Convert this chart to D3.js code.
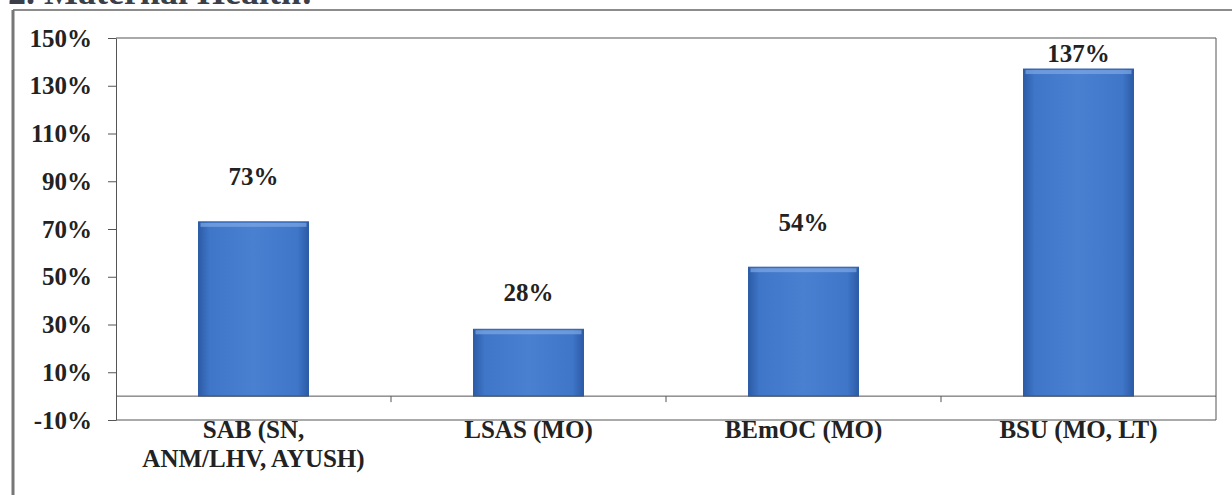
<!DOCTYPE html>
<html>
    <head>
        <meta charset="utf-8">
        <script src="https://cdn.jsdelivr.net/npm/d3@7"></script>
        <style>
        body { margin: 0; background: #fff; }
        text { font-family: "Liberation Serif", "Times New Roman", serif; font-weight: bold; fill: #222; }
        </style>
    </head>
    <body>
        <div id="chartContainer"></div>
        <script type="text/javascript">
            // chart values
            var categories = [["SAB (SN,", "ANM/LHV, AYUSH)"], ["LSAS (MO)"], ["BEmOC (MO)"], ["BSU (MO, LT)"]];
            var values = [73, 28, 54, 137];
            var yTicks = [-10, 10, 30, 50, 70, 90, 110, 130, 150];

            // label nudges above bar tops (px), as placed in the original
            var labelLift = [37, 28, 36, 7];

            var width = 1232,
                height = 495,
                plotLeft = 116, plotRight = 1216, plotTop = 38, plotBottom = 420;

            var svg = d3.select("#chartContainer")
                        .append("svg")
                        .attr("width", width)
                        .attr("height", height);

            var defs = svg.append("defs");
            var grad = defs.append("linearGradient").attr("id", "barGrad")
                .attr("x1", "0").attr("x2", "1").attr("y1", "0").attr("y2", "0");
            grad.append("stop").attr("offset", "0%").attr("stop-color", "#2c5ba6");
            grad.append("stop").attr("offset", "10%").attr("stop-color", "#3f76c8");
            grad.append("stop").attr("offset", "50%").attr("stop-color", "#4a80d0");
            grad.append("stop").attr("offset", "90%").attr("stop-color", "#3f76c8");
            grad.append("stop").attr("offset", "100%").attr("stop-color", "#2c5ba6");

            // cut-off heading and frame of the page
            svg.append("text")
               .attr("x", 8).attr("y", 4)
               .style("font-size", "36px").style("fill", "#3a3f4a")
               .text("2. Maternal Health:");
            svg.append("line").attr("x1", 13).attr("x2", width).attr("y1", 10).attr("y2", 10)
               .attr("stroke", "#666").attr("stroke-width", 1.5);
            svg.append("line").attr("x1", 13).attr("x2", 13).attr("y1", 10).attr("y2", height)
               .attr("stroke", "#777").attr("stroke-width", 3);

            var x = d3.scaleBand()
                .domain(d3.range(values.length))
                .range([plotLeft, plotRight])
                .paddingInner(0.6)
                .paddingOuter(0.3);
            var step = x.step();

            var y = d3.scaleLinear().domain([-10, 150]).range([plotBottom, plotTop]);

            // plot border
            svg.append("path")
               .attr("d", "M" + plotLeft + "," + plotTop + "H" + plotRight + "V" + plotBottom + "H" + plotLeft)
               .attr("fill", "none").attr("stroke", "#555").attr("stroke-width", 1);

            // value axis
            var yAxis = svg.append("g")
               .attr("transform", "translate(" + plotLeft + ",0)")
               .call(d3.axisLeft(y).tickValues(yTicks).tickSize(8).tickSizeOuter(0)
                     .tickFormat(function(d) { return d + "%"; }));
            yAxis.select(".domain").attr("stroke", "#555");
            yAxis.selectAll(".tick line").attr("stroke", "#555");
            yAxis.selectAll(".tick text")
               .attr("x", -24)
               .style("font-size", "25px")
               .style("font-family", "'Liberation Serif', serif")
               .attr("fill", "#222");

            // bars
            var bars = svg.selectAll(".bar").data(values).enter().append("g").attr("class", "bar");
            bars.append("rect")
               .attr("x", function(d, i) { return x(i); })
               .attr("y", function(d) { return y(d); })
               .attr("width", x.bandwidth())
               .attr("height", function(d) { return y(0) - y(d); })
               .attr("fill", "url(#barGrad)")
               .attr("stroke", "#2d5da6").attr("stroke-width", 1);
            bars.append("rect")
               .attr("x", function(d, i) { return x(i) + 2; })
               .attr("y", function(d) { return y(d) + 1; })
               .attr("width", x.bandwidth() - 4)
               .attr("height", 4)
               .attr("fill", "#7fa8e4").attr("opacity", 0.7);

            // category axis at zero
            var zeroY = y(0);
            svg.append("line").attr("x1", plotLeft).attr("x2", plotRight)
               .attr("y1", zeroY).attr("y2", zeroY).attr("stroke", "#555");
            svg.selectAll(".catTick").data(d3.range(1, values.length)).enter().append("line")
               .attr("x1", function(i) { return x(i) - step * 0.3; })
               .attr("x2", function(i) { return x(i) - step * 0.3; })
               .attr("y1", zeroY).attr("y2", zeroY + 6)
               .attr("stroke", "#555");

            // category labels
            var catText = svg.selectAll(".cat").data(categories).enter().append("text")
               .attr("text-anchor", "middle")
               .style("font-size", "25px")
               .attr("y", 438);
            catText.selectAll("tspan").data(function(d, i) { return d.map(function(t) { return [t, i]; }); })
               .enter().append("tspan")
               .attr("x", function(d) { return x(d[1]) + x.bandwidth() / 2; })
               .attr("dy", function(d, j) { return j ? 29 : 0; })
               .text(function(d) { return d[0]; });

            // value labels
            svg.selectAll(".val").data(values).enter().append("text")
               .attr("text-anchor", "middle")
               .style("font-size", "25px")
               .attr("x", function(d, i) { return x(i) + x.bandwidth() / 2; })
               .attr("y", function(d, i) { return y(d) - labelLift[i]; })
               .text(function(d) { return d + "%"; });
        </script>
    </body>
</html>
